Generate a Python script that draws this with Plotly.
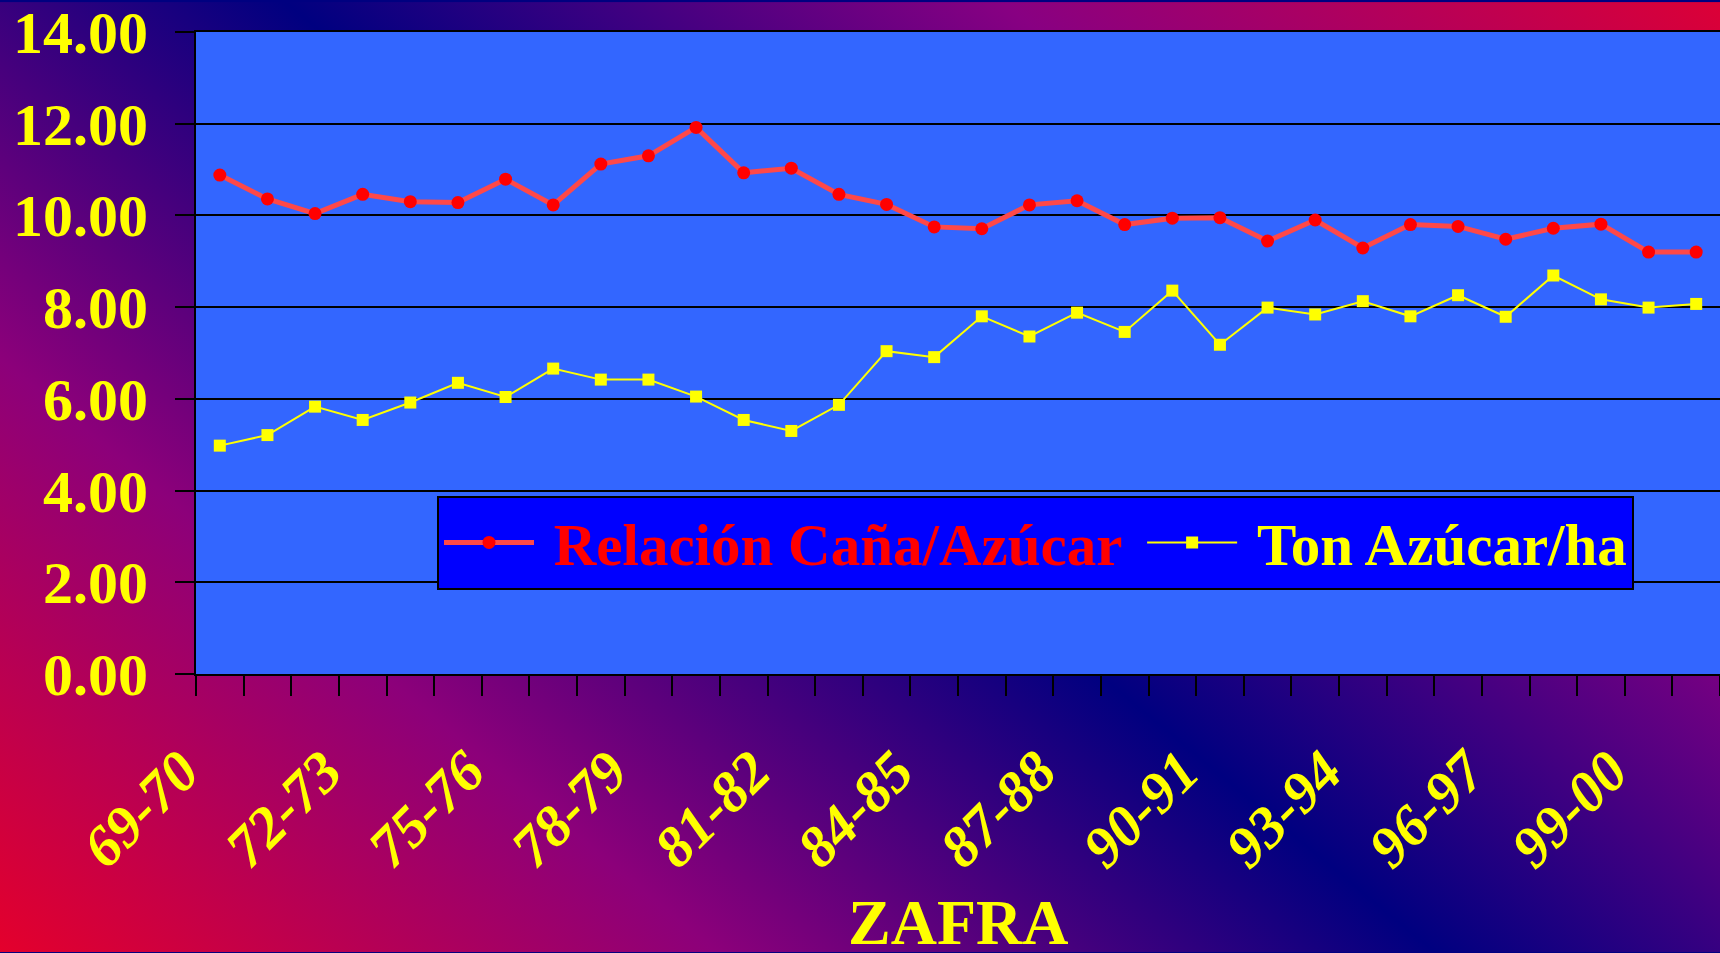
import base64
import plotly.graph_objects as go

# ---- data ----
zafras = ["69-70", "70-71", "71-72", "72-73", "73-74", "74-75", "75-76", "76-77",
          "77-78", "78-79", "79-80", "80-81", "81-82", "82-83", "83-84", "84-85",
          "85-86", "86-87", "87-88", "88-89", "89-90", "90-91", "91-92", "92-93",
          "93-94", "94-95", "95-96", "96-97", "97-98", "98-99", "99-00", "00-01"]
relacion_cana_azucar = [10.88, 10.36, 10.04, 10.46, 10.30, 10.28, 10.79, 10.23,
                        11.12, 11.30, 11.92, 10.93, 11.03, 10.46, 10.24, 9.75,
                        9.71, 10.23, 10.32, 9.80, 9.94, 9.95, 9.44, 9.90,
                        9.29, 9.80, 9.76, 9.48, 9.72, 9.81, 9.20, 9.20]
ton_azucar_ha = [4.98, 5.21, 5.83, 5.54, 5.92, 6.35, 6.04, 6.66,
                 6.42, 6.42, 6.05, 5.54, 5.30, 5.87, 7.04, 6.91,
                 7.80, 7.36, 7.88, 7.46, 8.36, 7.18, 7.99, 7.84,
                 8.13, 7.80, 8.26, 7.79, 8.69, 8.17, 7.99, 8.07]
series_names = ["Relación Caña/Azúcar", "Ton Azúcar/ha"]
label_every = 3
tick_labels = [z if i % label_every == 0 else "" for i, z in enumerate(zafras)]

W, H = 1720, 953
ML, MR, MT, MB = 196, 0, 30, 279
PW, PH = W - ML - MR, H - MT - MB

FONT = "Liberation Serif, Times New Roman, serif"
YEL = "#FFFF00"
NB = "\u00a0"

# background gradient (diagonal, red corners, navy band)
svg = f"""<svg xmlns='http://www.w3.org/2000/svg' width='{W}' height='{H}' viewBox='0 0 {W} {H}' preserveAspectRatio='none'>
<defs><linearGradient id='g' gradientUnits='userSpaceOnUse' x1='0' y1='{H}' x2='1169' y2='-457'>
<stop offset='0' stop-color='#E4002C'/>
<stop offset='0.25' stop-color='#8C007A'/>
<stop offset='0.5' stop-color='#000080'/>
<stop offset='0.75' stop-color='#880082'/>
<stop offset='1' stop-color='#DC0036'/>
</linearGradient></defs>
<rect x='0' y='0' width='{W}' height='{H}' fill='url(#g)'/></svg>"""
bg_src = "data:image/svg+xml;base64," + base64.b64encode(svg.encode()).decode()

fig = go.Figure()
fig.add_trace(go.Scatter(
    x=zafras, y=relacion_cana_azucar, mode="lines+markers",
    name=f"<span style='color:#FF0000'>{NB}{series_names[0]}{NB}</span>",
    line=dict(color="#FF4848", width=5),
    marker=dict(symbol="circle", size=13, color="#FF0000"),
))
fig.add_trace(go.Scatter(
    x=zafras, y=ton_azucar_ha, mode="lines+markers",
    name=f"<span style='color:#FFFF00'>{NB}{series_names[1]}</span>",
    line=dict(color=YEL, width=2),
    marker=dict(symbol="square", size=12, color=YEL),
))

fig.update_layout(
    width=W, height=H,
    margin=dict(l=ML, r=MR, t=MT, b=MB, pad=0),
    paper_bgcolor="#000080",
    plot_bgcolor="rgba(0,0,0,0)",
    font=dict(family=FONT, color=YEL),
    showlegend=True,
    legend=dict(
        orientation="h", x=(437 - ML) / PW, y=(H - MB - 495) / PH,
        xanchor="left", yanchor="top",
        bgcolor="#0000FF", bordercolor="#000000", borderwidth=2,
        font=dict(family=FONT, size=59, weight="bold"),
        itemwidth=90, tracegroupgap=0,
    ),
    images=[dict(
        source=bg_src, xref="paper", yref="paper",
        x=-ML / PW, y=1 + MT / PH, sizex=W / PW, sizey=H / PH,
        xanchor="left", yanchor="top", sizing="stretch", layer="below",
    )],
    shapes=[dict(
        type="rect", xref="paper", yref="paper", x0=0, x1=1, y0=0, y1=1,
        fillcolor="#3366FF", line=dict(width=0), layer="below",
    )],
    xaxis=dict(
        type="category", range=[-0.5, len(zafras) - 0.5],
        tickvals=zafras, ticktext=tick_labels, tickson="boundaries",
        ticks="outside", ticklen=20, tickwidth=2, tickcolor="#000000",
        showline=True, linecolor="#000000", linewidth=2, mirror=True,
        showgrid=False, tickangle=-45,
        tickfont=dict(family=FONT, size=58, color=YEL, weight="bold", style="italic"),
        ticklabelshift=-38, ticklabelstandoff=38,
    ),
    yaxis=dict(
        range=[0, 14], dtick=2, tickformat=".2f",
        ticks="outside", ticklen=19, tickwidth=2, tickcolor="#000000",
        showline=True, linecolor="#000000", linewidth=2,
        showgrid=True, gridcolor="#000000", gridwidth=2,
        zeroline=False, ticklabeloverflow="allow",
        tickfont=dict(family=FONT, size=60, color=YEL, weight="bold"),
        ticklabelstandoff=15,
    ),
    annotations=[dict(
        text="ZAFRA", xref="paper", yref="paper", x=0.5, y=-(923 - (H - MB)) / PH,
        xanchor="center", yanchor="middle", showarrow=False,
        font=dict(family=FONT, size=64, color=YEL, weight="bold"),
    )],
)

fig.write_html("out.html", config={"displayModeBar": False},
               post_script="document.body.style.margin='0';document.body.style.overflow='hidden';")
